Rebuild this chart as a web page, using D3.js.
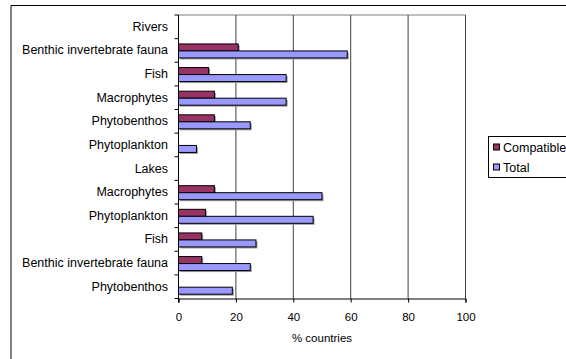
<!DOCTYPE html>
<html>
<head>
<meta charset="utf-8">
<script src="https://cdn.jsdelivr.net/npm/d3@7"></script>
<style>
  html, body { margin: 0; padding: 0; background: #fff; }
  svg { display: block; }
  text { font-family: "Liberation Sans", Arial, sans-serif; fill: #000; }
</style>
</head>
<body>
<svg id="chart" width="566" height="359"></svg>
<script>
// ---- data ----
const categories = [
  "Rivers", "Benthic invertebrate fauna", "Fish", "Macrophytes", "Phytobenthos", "Phytoplankton",
  "Lakes", "Macrophytes", "Phytoplankton", "Fish", "Benthic invertebrate fauna", "Phytobenthos"
];
const compatible = [null, 20.8, 10.5, 12.5, 12.5, 0, null, 12.5, 9.4, 8.1, 8.1, 0];
const total      = [null, 58.8, 37.5, 37.5, 25, 6.25, null, 50, 46.9, 27, 25, 18.75];
const xTicks = [0, 20, 40, 60, 80, 100];
const seriesNames = ["Compatible", "Total"];
const seriesColors = ["#993366", "#9999FF"];

// ---- layout ----
const svg = d3.select("#chart");
const pL = 178.5, pR = 465.5, pT = 15, pB = 298.5;

// outer frame (clipped at right/bottom)
svg.append("path")
  .attr("d", `M11,400 V5.5 H600`)
  .attr("fill", "none").attr("stroke", "#000").attr("stroke-width", 1);

const x = d3.scaleLinear().domain([0, 100]).range([pL, pR]);
const keys = categories.map((c, i) => i);
const y = d3.scaleBand().domain(keys).range([pT, pB]).padding(0);

// plot area border (gray top/right)
svg.append("path")
  .attr("d", `M${pL},${pT} H${pR} V${pB}`)
  .attr("fill", "none").attr("stroke", "#808080").attr("stroke-width", 1);

// gridlines
svg.append("g").selectAll("line").data(xTicks.filter(t => t > 0)).join("line")
  .attr("x1", d => x(d)).attr("x2", d => x(d))
  .attr("y1", pT).attr("y2", pB)
  .attr("stroke", "#404040").attr("stroke-width", 1);

// bars
const bh = 7;
const rows = keys.map(i => ({i, c: compatible[i], t: total[i]}));
const g = svg.append("g");
rows.forEach(r => {
  const yc = y(r.i) + y.bandwidth() / 2 + 0.5;
  const bars = [
    {v: r.c, y0: yc - bh, col: seriesColors[0]},
    {v: r.t, y0: yc, col: seriesColors[1]}
  ];
  bars.forEach(b => {
    if (b.v == null || b.v <= 0) return;
    const w = x(b.v) - x(0);
    g.append("rect").attr("x", x(0) + 1.5).attr("y", b.y0 + 1.5)
      .attr("width", w).attr("height", bh).attr("fill", "#9a9a9a");
  });
  bars.forEach(b => {
    if (b.v == null || b.v <= 0) return;
    const w = x(b.v) - x(0);
    g.append("rect").attr("x", x(0)).attr("y", b.y0)
      .attr("width", w).attr("height", bh).attr("fill", b.col)
      .attr("stroke", "#000").attr("stroke-width", 1);
  });
});

// x axis
const xAxis = d3.axisBottom(x).tickValues(xTicks).tickSize(4).tickPadding(10).tickFormat(d3.format("d"));
const xg = svg.append("g").attr("transform", `translate(0,${pB})`).call(xAxis);
xg.select(".domain").attr("stroke", "#000");
xg.selectAll("line").attr("stroke", "#000");
xg.selectAll("text").attr("font-size", 11.5).attr("font-family", "Liberation Sans, Arial, sans-serif").attr("fill", "#000");

// y axis (ticks at band boundaries)
svg.append("line").attr("x1", pL).attr("x2", pL).attr("y1", pT).attr("y2", pB + 4)
  .attr("stroke", "#000");
const bounds = keys.map(i => y(i)).concat([pB]);
svg.append("g").selectAll("line").data(bounds).join("line")
  .attr("x1", pL - 4).attr("x2", pL).attr("y1", d => d).attr("y2", d => d)
  .attr("stroke", "#000");
svg.append("g").selectAll("text").data(keys).join("text")
  .attr("x", pL - 10.5).attr("y", i => y(i) + y.bandwidth() / 2 + 4)
  .attr("text-anchor", "end").attr("font-size", 12.5)
  .text(i => categories[i]);

// axis title
svg.append("text").attr("x", (pL + pR) / 2).attr("y", 342)
  .attr("text-anchor", "middle").attr("font-size", 11.5).text("% countries");

// legend
const lg = svg.append("g");
lg.append("rect").attr("x", 488.5).attr("y", 136.5).attr("width", 100).attr("height", 41)
  .attr("fill", "#fff").attr("stroke", "#000");
seriesNames.forEach((n, i) => {
  const yy = 144 + i * 20;
  lg.append("rect").attr("x", 493.5).attr("y", yy).attr("width", 6).attr("height", 6)
    .attr("fill", seriesColors[i]).attr("stroke", "#000");
  lg.append("text").attr("x", 503).attr("y", yy + 8).attr("font-size", 12.5).text(n);
});
</script>
</body>
</html>
